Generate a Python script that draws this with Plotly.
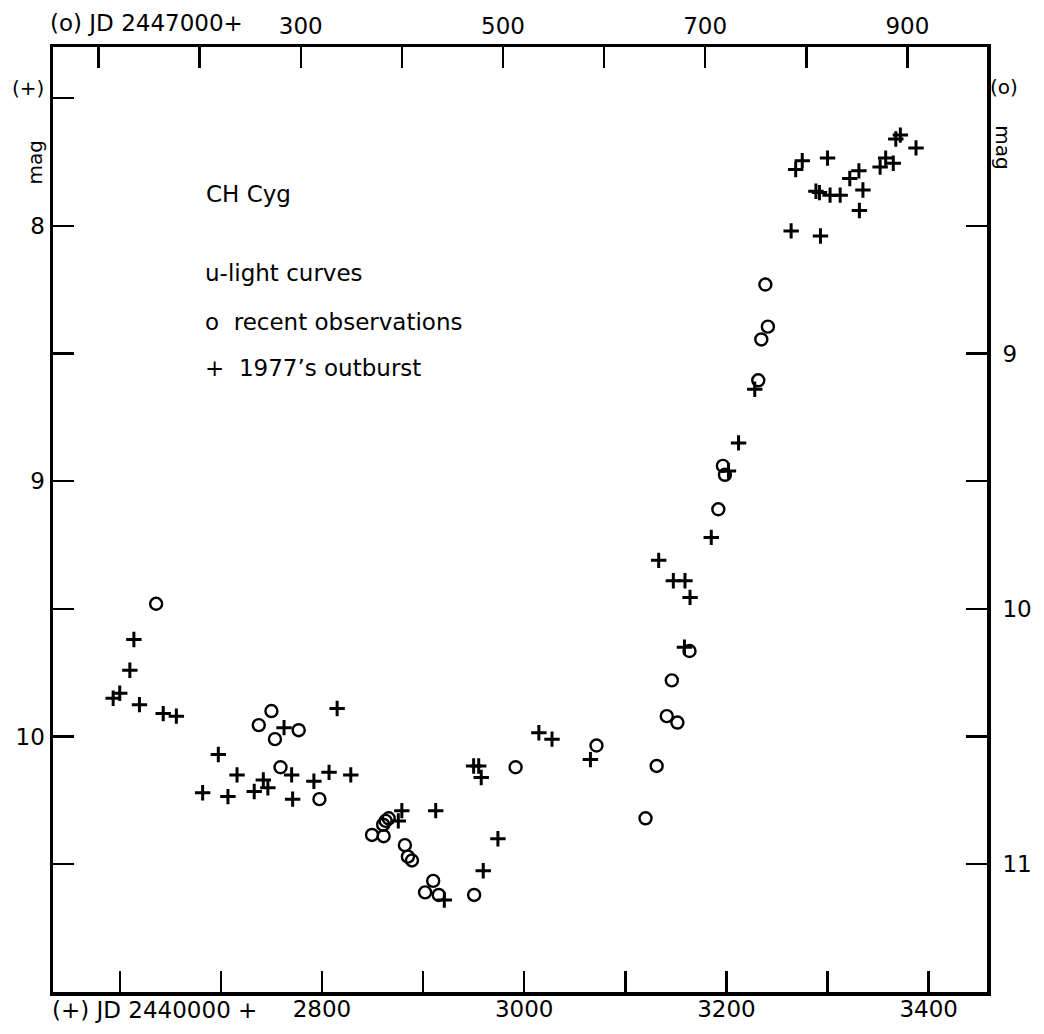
import plotly.graph_objects as go

# ---- data: "+" = 1977 outburst (bottom axis JD 2440000+, left mag) ----
plus_jd = [2593.5, 2600, 2610, 2614, 2619.5, 2643, 2656, 2682, 2697.5, 2707,
           2716, 2733, 2742, 2746.5, 2762.5, 2770, 2771, 2792, 2807, 2815,
           2828.5, 2875.5, 2879, 2912.5, 2921, 2950, 2955, 2957.5, 2959.5, 2974,
           3014.5, 3027.5, 3065.5, 3133, 3147.5, 3159, 3164, 3158.5, 3185, 3212,
           3202, 3228, 3264, 3293, 3268.5, 3275, 3300, 3288.5, 3292, 3302.5,
           3312.5, 3322, 3331, 3335, 3331.5, 3352, 3357.5, 3365, 3367.5, 3372,
           3387.5]
plus_mag = [9.85, 9.83, 9.74, 9.62, 9.875, 9.91, 9.92, 10.22, 10.07, 10.235,
            10.15, 10.215, 10.17, 10.20, 9.965, 10.15, 10.245, 10.175, 10.14, 9.89,
            10.15, 10.33, 10.29, 10.29, 10.64, 10.115, 10.115, 10.16, 10.525, 10.40,
            9.985, 10.01, 10.09, 9.31, 9.39, 9.39, 9.455, 9.65, 9.22, 8.85,
            8.96, 8.64, 8.02, 8.04, 7.78, 7.745, 7.735, 7.865, 7.87, 7.88,
            7.88, 7.815, 7.785, 7.86, 7.94, 7.77, 7.735, 7.755, 7.66, 7.645,
            7.695]

# ---- data: "o" = recent observations (top axis JD 2447000+, right mag) ----
circ_jd = [157, 271, 258.5, 298, 274.5, 280, 318.5, 370.5, 382, 381.5,
           384, 387, 403, 406, 410, 431, 423, 436.5, 471.5, 512.5,
           592.5, 641, 652, 662, 672.5, 667, 684.5, 713, 717.5, 719.5,
           752.5, 755.5, 762, 759.5]
circ_mag = [9.98, 10.40, 10.455, 10.475, 10.51, 10.62, 10.745, 10.885, 10.89, 10.845,
            10.83, 10.82, 10.925, 10.97, 10.985, 11.065, 11.11, 11.12, 11.12, 10.62,
            10.535, 10.82, 10.615, 10.42, 10.445, 10.28, 10.165, 9.61, 9.44, 9.475,
            9.105, 8.945, 8.895, 8.73]

# ---- ticks ----
bottom_ticks = [2600, 2700, 2800, 2900, 3000, 3100, 3200, 3300, 3400]
bottom_labels = ["", "", "2800", "", "3000", "", "3200", "", "3400"]
top_ticks = [100, 200, 300, 400, 500, 600, 700, 800, 900]
top_labels = ["", "", "300", "", "500", "", "700", "", "900"]
left_ticks = [7.5, 8.0, 8.5, 9.0, 9.5, 10.0, 10.5]
left_labels = ["", "8", "", "9", "", "10", ""]
right_ticks = [8.5, 9.0, 9.5, 10.0, 10.5, 11.0]
right_labels = ["", "9", "", "10", "", "11"]

FONT = "DejaVu Sans, sans-serif"
NBSP = "\u00a0"

fig = go.Figure()
fig.add_trace(go.Scatter(
    x=plus_jd, y=plus_mag, mode="markers", xaxis="x", yaxis="y",
    marker=dict(symbol="cross-thin-open", size=11, color="black",
                line=dict(width=3, color="black")),
    showlegend=False, hoverinfo="skip"))
fig.add_trace(go.Scatter(
    x=circ_jd, y=circ_mag, mode="markers", xaxis="x2", yaxis="y2",
    marker=dict(symbol="circle-open", size=12, color="black",
                line=dict(width=2.4, color="black")),
    showlegend=False, hoverinfo="skip"))

axis_common = dict(ticks="inside", ticklen=21, tickwidth=2.4, tickcolor="black",
                   showline=True, linewidth=3.5, linecolor="black",
                   showgrid=False, zeroline=False,
                   tickfont=dict(family=FONT, size=23, color="black"))

fig.update_layout(
    width=1044, height=1034,
    margin=dict(l=53, r=40, t=47, b=42),
    paper_bgcolor="white", plot_bgcolor="white",
    xaxis=dict(range=[2534, 3457.7], tickmode="array", tickvals=bottom_ticks,
               ticktext=bottom_labels, ticklabelstandoff=-6, **axis_common),
    xaxis2=dict(range=[55, 978.7], overlaying="x", side="top", anchor="y",
                tickmode="array", tickvals=top_ticks, ticktext=top_labels,
                **axis_common),
    yaxis=dict(range=[11.0, 7.3], tickmode="array", tickvals=left_ticks,
               ticktext=left_labels, **axis_common),
    yaxis2=dict(range=[11.5, 7.8], overlaying="y", side="right", anchor="x",
                tickmode="array", tickvals=right_ticks,
                ticktext=[(NBSP + t) if t else "" for t in right_labels],
                **axis_common),
)

def ann(text, x, y, size=22, angle=0, xanchor="center"):
    fig.add_annotation(text=text, x=x, y=y, xref="paper", yref="paper",
                       showarrow=False, textangle=angle, xanchor=xanchor,
                       yanchor="middle",
                       font=dict(family=FONT, size=size, color="black"))

ann("(o) JD 2447000+", 0.100, 1.025, size=23)
ann("(+) JD 2440000 +", 0.109, -0.019, size=23)
ann("(+)", -0.027, 0.957, size=20)
ann("mag", -0.019, 0.878, size=20, angle=-90)
ann("(o)", 1.018, 0.958, size=20)
ann("mag", 1.017, 0.894, size=20, angle=90)

ann("CH Cyg", 0.162, 0.844, size=23, xanchor="left")
ann("u-light curves", 0.161, 0.761, size=23, xanchor="left")
ann("o  recent observations", 0.161, 0.709, size=23, xanchor="left")
ann("+  1977’s outburst", 0.161, 0.660, size=23, xanchor="left")

fig.write_html(
    "out.html",
    config={"displayModeBar": False, "staticPlot": True},
    post_script="document.body.style.margin='0';document.body.style.overflow='hidden';",
)
